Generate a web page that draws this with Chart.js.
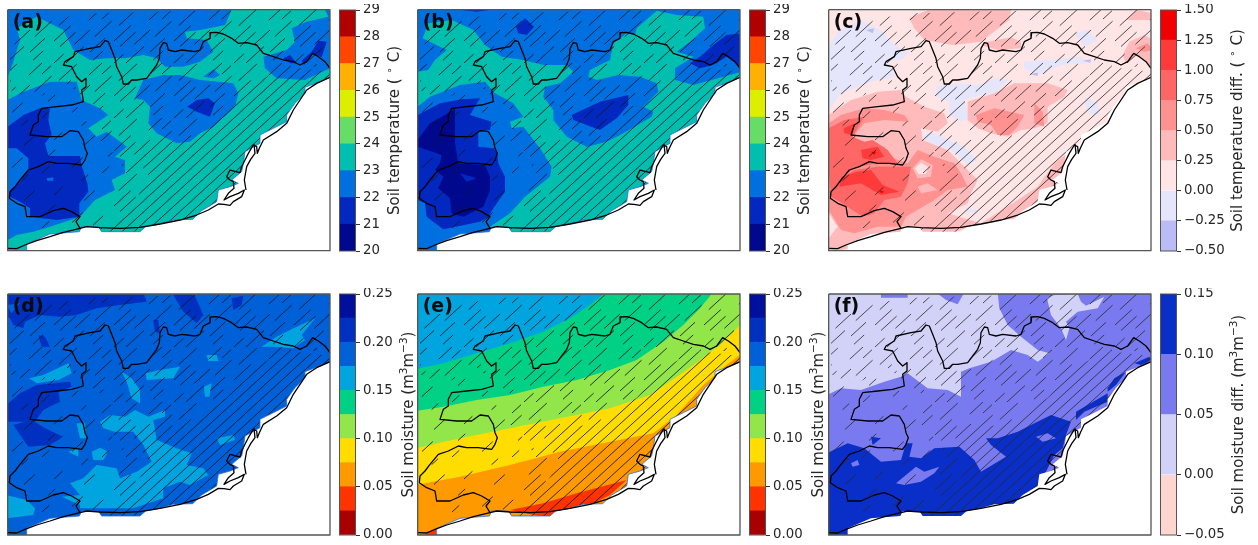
<!DOCTYPE html>
<html><head><meta charset="utf-8">
<script src="https://cdn.jsdelivr.net/npm/chart.js@4"></script>
<style>
html,body{margin:0;padding:0;background:#fff;width:1258px;height:545px;overflow:hidden}
#wrap{position:relative;width:1258px;height:545px;filter:blur(0.5px)}
canvas{position:absolute}
</style></head><body><div id="wrap"></div>
<script>
// ---------- colour bars ----------
const tempEdges=[20,21,22,23,24,25,26,27,28,29];
const tempTicks=[20,21,22,23,24,25,26,27,28,29];
const tempColors=['#00088e','#0228bf','#0070e0','#00bfae','#66dd66','#ddee00','#ffb000','#ff4500','#b00000'];
const moistEdges=[0,.025,.05,.075,.1,.125,.15,.175,.2,.225,.25];
const moistTicks=[0,.05,.1,.15,.2,.25];
const moistColors=['#a80000','#ff3300','#ff9900','#ffdd00','#92e64a','#00d184','#00a5e0','#0060d8','#0030c0','#000f9c'];
const tdiffEdges=[-.5,-.25,0,.25,.5,.75,1,1.25,1.5];
const tdiffTicks=[-.5,-.25,0,.25,.5,.75,1,1.25,1.5];
const tdiffColors=['#bbbbf6','#e5e5fb','#ffe5e5','#ffbbbb','#ff9191','#ff6666','#ff3a3a','#f00000'];
const mdiffEdges=[-.05,0,.05,.1,.15];
const mdiffTicks=[-.05,0,.05,.1,.15];
const mdiffColors=['#ffd5d0','#d2d2f8','#7a7af0','#0a2fc8'];

// ---------- axis titles: [text, 1 when raised] ----------
const titleTemp=[['Soil temperature ( ',0],['\u2218',1],[' C)',0]];
const titleTempDiff=[['Soil temperature diff. ( ',0],['\u2218',1],[' C)',0]];
const titleMoist=[['Soil moisture (m',0],['3',1],['m',0],['\u22123',1],[')',0]];
const titleMoistDiff=[['Soil moisture diff. (m',0],['3',1],['m',0],['\u22123',1],[')',0]];

// ---------- shared map geometry (map units) ----------
const seaMask=[[80,760],[80,732],[150,702],[238,695],[245,680],[295,680],[305,695],[420,695],[437,680],[470,674],[520,660],[578,658],[605,632],[650,605],[655,570],[690,560],[715,550],[695,540],[725,515],[730,490],[735,455],[780,430],[780,405],[820,385],[860,365],[860,345],[885,310],[915,280],[915,262],[960,245],[996,230],[996,760]];
const coastLine=[[23,745],[50,746],[75,735],[110,722],[150,710],[190,697],[240,685],[260,680],[300,683],[360,685],[420,682],[480,672],[540,660],[590,645],[625,630],[655,612],[672,613],[690,616],[700,605],[725,590],[733,570],[715,580],[690,590],[672,600],[685,580],[702,565],[700,545],[690,540],[680,530],[690,510],[720,518],[725,500],[735,480],[745,460],[760,435],[770,440],[772,460],[778,445],[790,420],[830,395],[860,370],[880,330],[900,300],[920,270],[950,250],[990,232]];
const deltaLine=[[738,570],[733,540],[740,500],[752,478],[765,460],[762,432]];
const regionLine=[[990,205],[975,185],[955,170],[938,160],[920,185],[900,195],[880,185],[850,180],[820,170],[790,160],[770,135],[740,128],[715,130],[695,115],[670,102],[650,97],[632,98],[630,115],[610,125],[600,150],[585,155],[545,150],[525,155],[505,150],[500,130],[490,128],[480,145],[478,175],[470,195],[455,215],[440,235],[410,240],[395,240],[385,252],[370,252],[365,230],[350,200],[345,175],[335,150],[325,125],[315,122],[300,140],[270,145],[225,155],[220,170],[195,185],[190,195],[215,200],[230,230],[245,245],[258,235],[258,260],[245,270],[250,305],[215,315],[170,320],[125,325],[115,345],[115,365],[100,375],[90,405],[140,410],[185,410],[210,392],[235,395],[250,420],[255,445],[262,460],[255,480],[245,495],[205,490],[170,490],[145,485],[115,500],[85,510],[60,540],[45,560],[30,575],[28,595],[50,610],[75,620],[80,650],[120,650],[160,632],[190,625],[215,635],[240,650],[228,665],[240,685]];
const frameLine=[[23,29],[990,29],[990,752],[23,752],[23,29]];
const hatchDense=[[290,700],[400,610],[450,530],[400,470],[450,430],[560,420],[680,340],[760,250],[860,200],[990,215],[990,240],[900,290],[860,360],[780,420],[730,480],[720,540],[650,610],[560,660],[430,700]];
const hatchShort=[[30,120],[130,60],[280,40],[700,29],[950,29],[990,50],[990,200],[860,200],[760,250],[680,340],[560,420],[450,430],[400,470],[450,530],[400,610],[290,700],[240,690],[330,600],[380,520],[340,460],[280,400],[330,350],[250,290],[200,250],[100,300],[30,270]];
const hatchSparse=[[23,290],[200,260],[280,400],[340,460],[380,520],[330,600],[240,690],[100,690],[100,640],[40,560],[23,480]];
const dashSolid=[[[0,1]],[[0,1]],[[0,1]],[[0,1]],[[0,1]]];
const dashShort=[[[0,.3],[.48,.76]],[[.2,.45],[.68,.98]],[[.05,.22],[.4,.68]],[[.3,.56],[.78,1]],[[0,.16],[.34,.6],[.8,.95]]];
const dashSparse=[[[.1,.28]],[[.6,.74]],[[.3,.42],[.86,.97]],[[0,.12]],[[.5,.68]]];

// ---------- panel contour layers: [colour index, polygon] ----------
const FULL=[[18,24],[996,24],[996,790],[18,790]];
const panelA=[
[2,FULL],
[3,[[50,85],[110,50],[190,90],[220,150],[270,180],[320,175],[375,175],[430,165],[470,175],[495,200],[550,200],[600,185],[640,155],[620,120],[560,115],[555,95],[600,90],[675,75],[695,29],[975,29],[985,50],[920,65],[875,85],[885,125],[860,150],[790,170],[795,205],[830,235],[915,240],[990,205],[996,232],[996,760],[23,760],[23,720],[50,705],[100,695],[150,680],[240,650],[285,600],[345,570],[335,540],[375,520],[375,480],[345,470],[380,440],[320,395],[290,410],[265,385],[325,345],[300,325],[245,300],[230,245],[150,245],[60,280],[23,300],[23,230],[40,185],[60,120]]],
[2,[[405,295],[430,240],[490,225],[540,225],[600,240],[700,250],[715,280],[705,320],[640,380],[600,400],[570,425],[530,430],[470,400],[445,370],[450,320],[430,300]]],
[2,[[610,230],[640,208],[660,225],[640,235]]],
[1,[[562,320],[590,300],[625,295],[645,310],[630,350],[590,335]]],
[1,[[23,380],[70,345],[120,325],[150,325],[145,360],[155,405],[135,430],[145,468],[240,468],[245,497],[262,550],[265,575],[238,610],[238,650],[170,660],[90,650],[90,625],[60,605],[30,590],[30,570],[60,545],[85,510],[85,475],[50,445],[23,445]]],
[2,[[140,535],[160,532],[160,542],[142,542]]],
[1,[[850,175],[870,165],[890,190],[870,190]]],
[1,[[905,182],[935,155],[955,122],[980,125],[965,172],[940,160],[912,195]]]
];
const panelB=[
[2,FULL],
[3,[[38,115],[55,70],[125,60],[190,90],[225,135],[275,170],[340,180],[400,195],[470,195],[490,215],[450,250],[405,260],[400,290],[430,330],[430,360],[470,410],[530,440],[590,425],[640,400],[725,350],[730,335],[700,320],[745,275],[740,250],[690,230],[625,225],[560,240],[535,230],[540,210],[600,180],[610,130],[650,100],[675,105],[680,85],[740,32],[800,45],[880,50],[885,85],[840,125],[800,155],[850,170],[795,205],[795,240],[850,255],[996,215],[996,760],[250,760],[240,680],[300,640],[345,590],[420,530],[425,500],[390,445],[340,380],[305,385],[300,365],[340,350],[310,310],[255,280],[225,245],[150,255],[60,290],[23,320],[23,215],[55,210],[75,180],[110,150]]],
[1,[[485,345],[570,305],[655,285],[655,315],[620,355],[570,390],[490,360]]],
[1,[[23,345],[90,310],[155,298],[210,295],[180,345],[245,365],[240,390],[205,395],[205,440],[250,445],[262,460],[265,490],[285,530],[285,575],[250,625],[235,650],[210,665],[100,688],[50,650],[45,610],[23,600]]],
[2,[[205,400],[240,395],[248,440],[208,440]]],
[0,[[23,420],[60,370],[105,345],[135,325],[135,430],[145,490],[225,495],[240,530],[240,570],[220,620],[160,650],[125,640],[120,595],[85,565],[100,530],[75,510],[90,490],[95,465],[23,440]]],
[1,[[150,520],[200,535],[170,545]]],
[1,[[840,190],[870,170],[910,135],[950,105],[996,100],[996,205],[950,170],[910,195],[870,205]]],
[1,[[318,80],[345,55],[372,80],[350,105],[325,100]]],
[1,[[148,29],[240,29],[200,35]]]
];
const panelC=[
[2,FULL],
[1,[[23,140],[50,95],[120,60],[180,90],[215,130],[265,160],[240,180],[200,185],[225,230],[150,245],[60,280],[23,330]]],
[1,[[345,260],[410,250],[470,255],[530,235],[560,240],[530,275],[440,295],[430,300],[445,355],[420,365],[385,345],[385,305],[345,290]]],
[1,[[300,410],[330,395],[430,440],[470,480],[440,495],[390,450],[330,430]]],
[1,[[610,185],[680,180],[780,170],[800,190],[720,195],[650,225],[610,205]]],
[1,[[760,100],[800,90],[830,120],[790,140]]],
[1,[[790,290],[830,310],[835,345],[800,340]]],
[1,[[440,625],[470,630],[470,640],[430,635]]],
[0,[[135,90],[160,85],[155,100]]],
[0,[[625,222],[650,218],[650,228]]],
[0,[[785,182],[810,178],[808,188]]],
[3,[[265,55],[320,30],[570,30],[565,60],[480,125],[395,135],[310,120],[280,85]]],
[3,[[480,135],[530,150],[600,145],[600,125],[570,112],[500,125]]],
[3,[[905,165],[925,125],[970,105],[996,120],[996,205],[950,165],[915,190]]],
[4,[[945,145],[980,130],[996,150],[970,155]]],
[3,[[915,60],[945,29],[996,40],[996,60]]],
[3,[[440,305],[520,280],[580,250],[680,250],[740,270],[730,290],[680,320],[680,370],[640,385],[600,390],[560,410],[510,400],[470,385],[440,360]]],
[4,[[465,345],[520,325],[610,345],[590,380],[565,405],[530,405],[510,375],[470,365]]],
[4,[[640,310],[665,335],[670,380],[640,370]]],
[3,[[23,345],[90,300],[170,275],[240,270],[255,290],[310,320],[370,340],[380,370],[350,395],[300,385],[305,420],[380,450],[430,500],[470,540],[450,580],[440,610],[380,640],[480,670],[390,700],[240,700],[100,740],[23,760]]],
[3,[[480,670],[590,600],[650,560],[700,490],[740,460],[740,600],[600,670]]],
[4,[[23,370],[60,345],[130,325],[190,330],[250,345],[265,365],[190,360],[130,370],[95,410],[130,430],[190,440],[205,470],[260,490],[290,450],[340,470],[400,490],[420,520],[440,560],[380,570],[340,600],[255,650],[240,680],[170,680],[100,700],[60,690],[23,630]]],
[3,[[275,505],[300,478],[335,495],[330,530],[290,535]]],
[2,[[282,505],[300,488],[322,502],[315,522],[292,522]]],
[3,[[290,560],[320,550],[350,570],[300,580]]],
[5,[[23,385],[70,360],[130,350],[95,410],[130,425],[155,420],[200,450],[230,490],[170,490],[110,500],[60,530],[45,580],[30,590],[23,510]]],
[5,[[45,545],[100,510],[170,500],[270,500],[260,550],[240,590],[190,600],[160,640],[125,650],[80,620],[30,590]]],
[6,[[68,385],[100,370],[95,405],[70,400]]],
[6,[[120,450],[170,440],[190,470],[150,480],[125,475]]],
[6,[[60,530],[110,515],[150,510],[185,555],[235,575],[180,585],[120,550],[55,560]]],
[7,[[150,455],[165,455],[160,465]]],
[7,[[175,570],[190,575],[180,580]]],
[2,[[23,640],[50,680],[23,715]]]
];
const panelD=[
[7,FULL],
[8,[[18,52],[430,52],[440,80],[360,90],[290,100],[230,120],[175,125],[120,120],[75,140],[70,160],[40,150],[30,130],[18,125]]],
[7,[[18,90],[60,85],[35,115]]],
[8,[[515,52],[580,52],[610,120],[590,145],[550,110]]],
[8,[[695,70],[730,62],[725,90],[700,105]]],
[8,[[115,180],[135,185],[150,215],[125,215]]],
[8,[[18,390],[60,355],[110,330],[210,320],[215,335],[175,350],[180,380],[130,405],[105,440],[135,460],[190,485],[150,510],[85,515],[40,450],[75,440],[18,440],[18,490]]],
[8,[[460,135],[475,135],[480,175],[465,170]]],
[6,[[785,215],[830,185],[870,165],[945,130],[905,180],[915,195],[880,220],[820,215]]],
[6,[[88,310],[130,300],[205,265],[215,295],[175,315],[110,325]]],
[6,[[437,295],[480,285],[540,275],[520,310],[440,315]]],
[6,[[620,240],[650,240],[655,258],[625,258]]],
[6,[[612,335],[635,325],[628,365],[615,365]]],
[6,[[365,290],[395,310],[420,345],[420,385],[395,370],[380,320]]],
[6,[[300,440],[330,420],[375,425],[405,405],[445,425],[495,405],[495,425],[460,435],[470,495],[530,520],[575,535],[560,570],[610,580],[625,600],[570,630],[540,620],[490,640],[490,670],[400,700],[240,700],[240,690],[185,665],[240,660],[210,625],[250,610],[290,570],[350,580],[360,610],[410,590],[455,560],[430,510],[400,470],[345,470],[310,460]]],
[6,[[650,490],[700,480],[705,495],[660,510]]],
[6,[[275,530],[300,518],[325,530],[310,555],[280,555]]],
[6,[[18,660],[80,675],[105,700],[100,720],[18,730]]],
[6,[[230,445],[255,445],[258,490],[240,490]]],
[6,[[205,530],[235,520],[235,545]]]
];
const panelE=[
[6,FULL],
[5,[[18,282],[100,265],[200,235],[300,205],[400,170],[480,130],[540,90],[580,57],[996,52],[996,790],[18,790]]],
[4,[[18,408],[100,395],[200,375],[300,360],[400,335],[500,315],[600,285],[680,255],[760,200],[820,150],[870,100],[905,57],[996,52],[996,790],[18,790]]],
[3,[[18,520],[150,490],[300,460],[450,430],[600,400],[720,360],[830,285],[930,210],[996,145],[996,790],[18,790]]],
[2,[[18,630],[150,605],[300,570],[450,530],[600,500],[730,475],[800,420],[880,330],[950,270],[996,235],[996,790],[18,790]]],
[1,[[300,705],[400,685],[500,655],[650,615],[600,660],[540,690],[420,730]]],
[1,[[50,770],[78,765],[78,790],[50,790]]]
];
const panelF=[
[2,FULL],
[1,[[18,52],[530,52],[535,100],[560,150],[600,185],[650,225],[685,235],[650,260],[620,240],[570,225],[510,260],[445,280],[420,290],[420,365],[380,345],[320,340],[280,310],[260,295],[240,305],[190,320],[120,345],[60,340],[18,360]]],
[2,[[180,52],[260,52],[260,68],[180,68]]],
[2,[[345,52],[430,52],[410,88],[375,75]]],
[1,[[678,70],[700,60],[770,57],[780,80],[795,92],[850,65],[830,100],[770,110],[735,140],[745,160],[735,195],[720,160],[690,120]]],
[3,[[18,535],[80,505],[130,520],[180,560],[240,555],[255,505],[275,505],[265,545],[300,550],[340,520],[415,515],[460,555],[480,590],[555,545],[510,510],[495,490],[530,490],[590,470],[640,445],[690,420],[750,440],[735,480],[725,520],[700,540],[670,600],[655,660],[580,700],[430,740],[240,740],[150,790],[18,790]]],
[2,[[645,485],[680,475],[705,490],[665,500]]],
[2,[[225,625],[285,575],[310,590],[355,575],[340,595],[300,620],[250,630]]],
[2,[[90,565],[110,555],[115,570],[95,575]]],
[3,[[765,410],[860,355],[860,380],[790,410],[765,435]]],
[3,[[860,340],[880,310],[915,290],[885,330],[860,350]]],
[3,[[940,265],[985,245],[990,255],[960,270]]],
[3,[[150,485],[180,490],[155,510]]]
];

// ---------- panel list ----------
const panels=[
 {label:'(a)',layers:panelA,colors:tempColors,edges:tempEdges,ticks:tempTicks,dec:0,title:titleTemp,left:6,top:8,shift:0,barL:339,titleX:55,edge:'#2f6fd8'},
 {label:'(b)',layers:panelB,colors:tempColors,edges:tempEdges,ticks:tempTicks,dec:0,title:titleTemp,left:416,top:8,shift:0,barL:749,titleX:55,edge:'#2f6fd8'},
 {label:'(c)',layers:panelC,colors:tdiffColors,edges:tdiffEdges,ticks:tdiffTicks,dec:2,title:titleTempDiff,left:827,top:8,shift:0,barL:1160,titleX:77,edge:null},
 {label:'(d)',layers:panelD,colors:moistColors,edges:moistEdges,ticks:moistTicks,dec:2,title:titleMoist,left:6,top:292,shift:28,barL:339,titleX:69,edge:'#2f6fd8'},
 {label:'(e)',layers:panelE,colors:moistColors,edges:moistEdges,ticks:moistTicks,dec:2,title:titleMoist,left:416,top:292,shift:28,barL:749,titleX:69,edge:'#2f6fd8'},
 {label:'(f)',layers:panelF,colors:mdiffColors,edges:mdiffEdges,ticks:mdiffTicks,dec:2,title:titleMoistDiff,left:827,top:292,shift:28,barL:1160,titleX:78,edge:null}
];

const FONT='"DejaVu Sans"';
const TEXT='#262626';
const wrap=document.getElementById('wrap');
function addCanvas(l,t,w,h){const c=document.createElement('canvas');c.width=w;c.height=h;c.style.left=l+'px';c.style.top=t+'px';c.style.width=w+'px';c.style.height=h+'px';wrap.appendChild(c);return c;}
function pts(a,s){return a.map(p=>({x:p[0],y:p[1]+(s||0)}));}
function hatchTile(dashes,color){
  const W=60,H=55,k=document.createElement('canvas');k.width=W;k.height=H;
  const g=k.getContext('2d');g.strokeStyle=color;g.lineWidth=1;
  dashes.forEach((ds,i)=>ds.forEach(d=>{
    [-W,0,W].forEach(o=>{
      const x0=12*i+o;
      g.beginPath();g.moveTo(x0+W*d[0],H-H*d[0]);g.lineTo(x0+W*d[1],H-H*d[1]);g.stroke();
    });
  }));
  return k;
}
const tileCtx=document.createElement('canvas').getContext('2d');
function pattern(dashes,color){return tileCtx.createPattern(hatchTile(dashes,color),'repeat');}
const TITLE_PX=15;
function drawTitle(g,segs){
  const big=TITLE_PX+'px '+FONT, small=(TITLE_PX*.7)+'px '+FONT;
  let total=0;segs.forEach(s=>{g.font=s[1]?small:big;total+=g.measureText(s[0]).width;});
  let x=-total/2;g.textAlign='left';g.textBaseline='alphabetic';
  segs.forEach(s=>{g.font=s[1]?small:big;g.fillText(s[0],x,s[1]?5-TITLE_PX*.42:5);x+=g.measureText(s[0]).width;});
}

panels.forEach(p=>{
  // map
  const c=addCanvas(p.left,p.top,326,244);
  const s=p.shift, hatch=p.edge?'rgba(15,25,35,.85)':'rgba(40,40,40,.8)';
  const ds=[];
  const poly=(a,bg,sh)=>ds.push({data:pts(a,sh),showLine:true,fill:'shape',backgroundColor:bg,borderWidth:0,pointRadius:0,tension:0});
  const line=(a,col,w)=>ds.push({data:pts(a,s),showLine:true,fill:false,borderColor:col,borderWidth:w,pointRadius:0,tension:0,borderJoinStyle:'round'});
  p.layers.forEach(l=>poly(l[1],p.colors[l[0]],0));
  poly(hatchDense,pattern(dashSolid,hatch),s);
  poly(hatchShort,pattern(dashShort,hatch),s);
  poly(hatchSparse,pattern(dashSparse,hatch),s);
  poly(seaMask,'#ffffff',s);
  if(p.edge) line(seaMask,p.edge,.8);
  line(coastLine,'#000',1.3);
  line(deltaLine,'#000',1.3);
  line(regionLine,'#000',1.3);
  line(frameLine,'#555',1.3);
  ds.forEach((d,i)=>{d.order=ds.length-i;});
  ds[ds.length-1].clip=false;
  const padTop=s?2:1.67;
  new Chart(c,{type:'scatter',data:{datasets:ds},plugins:[{id:'panelLabel',afterDraw(ch){
      const g=ch.ctx;g.save();g.font='bold 19px '+FONT;g.fillStyle='#0a0a0a';g.textBaseline='alphabetic';
      g.fillText(p.label,ch.scales.x.getPixelForValue(38),ch.scales.y.getPixelForValue(84+s));g.restore();}}],
    options:{responsive:false,animation:false,events:[],layout:{padding:{left:1.67,right:2,top:padTop,bottom:244-241-padTop}},
      plugins:{legend:{display:false},tooltip:{enabled:false},title:{display:false}},
      scales:{x:{type:'linear',display:false,min:23,max:990},y:{type:'linear',display:false,reverse:true,min:29+s,max:752+s}}}});
  // colour bar
  const W=Math.min(98,1258-p.barL);
  const b=addCanvas(p.barL,p.top-4,W,252);
  const fmt=v=>{const t=Math.abs(v).toFixed(p.dec);return (v<0?'\u2212':'')+t;};
  new Chart(b,{type:'bar',
    data:{labels:[''],datasets:p.colors.map((col,i)=>({data:[[p.edges[i],p.edges[i+1]]],backgroundColor:col,borderWidth:0,barPercentage:1,categoryPercentage:1,grouped:false}))},
    plugins:[{id:'barDecor',afterDraw(ch){
      const g=ch.ctx,a=ch.chartArea;g.save();g.strokeStyle='#555';g.lineWidth=1;g.strokeRect(a.left+.5,a.top,a.right-a.left-1,a.bottom-a.top);
      g.translate(p.titleX,(a.top+a.bottom)/2);g.rotate(-Math.PI/2);g.fillStyle=TEXT;
      drawTitle(g,p.title);g.restore();}}],
    options:{responsive:false,animation:false,events:[],layout:{padding:{top:6,bottom:5,left:0,right:0}},
      plugins:{legend:{display:false},tooltip:{enabled:false},title:{display:false}},
      scales:{x:{type:'category',display:false},
        y:{position:'right',min:p.edges[0],max:p.edges[p.edges.length-1],
           afterFit(s){s.width=W-17;s.paddingTop=0;s.paddingBottom=0;},
           afterBuildTicks(s){s.ticks=p.ticks.map(v=>({value:v}));},
           border:{display:false},
           grid:{drawOnChartArea:false,drawTicks:true,tickLength:4,color:'#333',tickWidth:1},
           ticks:{callback:fmt,color:TEXT,padding:3,font:{family:FONT,size:13.3},autoSkip:false,maxRotation:0,align:'center'}}}}});
});
</script></body></html>
